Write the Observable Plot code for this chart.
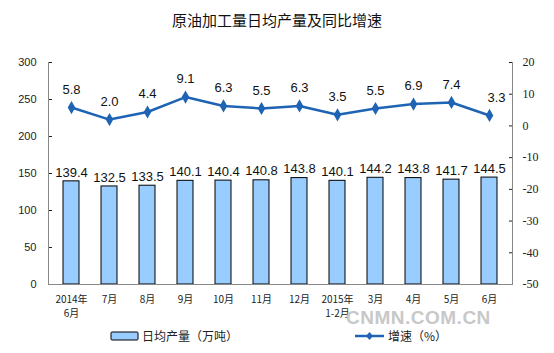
<!DOCTYPE html>
<html><head><meta charset="utf-8">
<script src="https://cdn.jsdelivr.net/npm/d3@7"></script>
<script src="https://cdn.jsdelivr.net/npm/@observablehq/plot@0.6"></script>
<style>
body{margin:0;background:#fff;font-family:"Liberation Sans",Arial,"Noto Sans CJK SC",sans-serif;}
#wrap{position:relative;width:554px;height:353px;overflow:hidden;}
#title{height:40px;line-height:40px;text-align:center;font-size:15px;font-family:"Noto Sans CJK SC",sans-serif;color:#111;}
.leg{position:absolute;top:328px;font-size:12px;font-family:"Noto Sans CJK SC",sans-serif;color:#222;display:flex;align-items:center;line-height:16px;}
#wm{position:absolute;left:346px;top:309px;font:bold 19px/17px "Liberation Sans",Arial,sans-serif;color:#c8c8c8;letter-spacing:0.5px;}
</style></head>
<body><div id="wrap">
<div id="title">原油加工量日均产量及同比增速</div>
<div id="chart"></div>
<div id="wm">CNMN.COM.CN</div>
<div class="leg" style="left:110px"><svg width="30" height="12"><rect x="1" y="2" width="27" height="8" fill="#99CCFF" stroke="#000" rx="1"/></svg><span style="margin-left:2px">日均产量（万吨）</span></div>
<div class="leg" style="left:355px"><svg width="30" height="12"><line x1="0" y1="6" x2="29" y2="6" stroke="#1F64B4" stroke-width="2.5"/><path d="M14.5,2 L18,6 L14.5,10 L11,6Z" fill="#1F64B4"/></svg><span style="margin-left:3px">增速（%）</span></div>
</div>
<script>
const categories = ["2014年\n6月","7月","8月","9月","10月","11月","12月","2015年\n1-2月","3月","4月","5月","6月"];
const output = [139.4,132.5,133.5,140.1,140.4,140.8,143.8,140.1,144.2,143.8,141.7,144.5];
const growth = [5.8,2.0,4.4,9.1,6.3,5.5,6.3,3.5,5.5,6.9,7.4,3.3];
const leftTicks = [0,50,100,150,200,250,300];
const rightTicks = [-50,-40,-30,-20,-10,0,10,20];

const rMin = -50, rMax = 20, lMax = 300;
const toLeft = v => (v - rMin) * lMax / (rMax - rMin);
const fromLeft = v => Math.round(v * (rMax - rMin) / lMax + rMin);

const bars = categories.map((c,i)=>({cat:c, v:output[i]}));
const pts = categories.map((c,i)=>({cat:c, g:growth[i], y:toLeft(growth[i])}));
const ptsMain = pts.slice(0, -1);
const ptsLast = pts.slice(-1);

const plot = Plot.plot({
  width: 554,
  height: 290,
  marginTop: 22,
  marginBottom: 46,
  marginLeft: 48,
  marginRight: 42,
  style: {fontFamily: '"Liberation Sans",Arial,"Noto Sans CJK SC",sans-serif', fontSize: "11px", color: "#222"},
  x: {domain: categories, padding: 0.58, paddingOuter: 0.29},
  y: {domain: [0, lMax]},
  marks: [
    Plot.axisY({ticks: leftTicks, tickSize: -4, tickPadding: 16, label: null, fontSize: 11}),
    Plot.axisY({anchor: "right", ticks: rightTicks.map(toLeft), tickFormat: fromLeft, tickSize: -4, tickPadding: 14, label: null, fontFamily: '"Liberation Serif","Times New Roman",serif', fontSize: 12}),
    Plot.axisX({tickSize: 0, tickPadding: 9, label: null, fontSize: 10, lineHeight: 1.4, fontFamily: '"Noto Sans CJK SC",sans-serif'}),
    Plot.frame({anchor: "left", stroke: "#888"}),
    Plot.frame({anchor: "right", stroke: "#888"}),
    Plot.barY(bars, {x: "cat", y: "v", fill: "#99CCFF", stroke: "#000", strokeWidth: 1}),
    Plot.ruleY([0], {stroke: "#888"}),
    Plot.text(bars, {x: "cat", y: "v", text: d => d.v.toFixed(1), dy: -9, fontSize: 13, fill: "#111"}),
    Plot.line(pts, {x: "cat", y: "y", stroke: "#1F64B4", strokeWidth: 2.5}),
    Plot.dot(pts, {x: "cat", y: "y", symbol: "diamond", r: 4, fill: "#1F64B4"}),
    Plot.text(ptsMain, {x: "cat", y: "y", text: d => d.g.toFixed(1), dy: -18, fontSize: 13, fill: "#111"}),
    Plot.text(ptsLast, {x: "cat", y: "y", text: d => d.g.toFixed(1), dy: -18, dx: 7, fontSize: 13, fill: "#111"})
  ]
});
document.getElementById("chart").appendChild(plot);
</script>
</body></html>
